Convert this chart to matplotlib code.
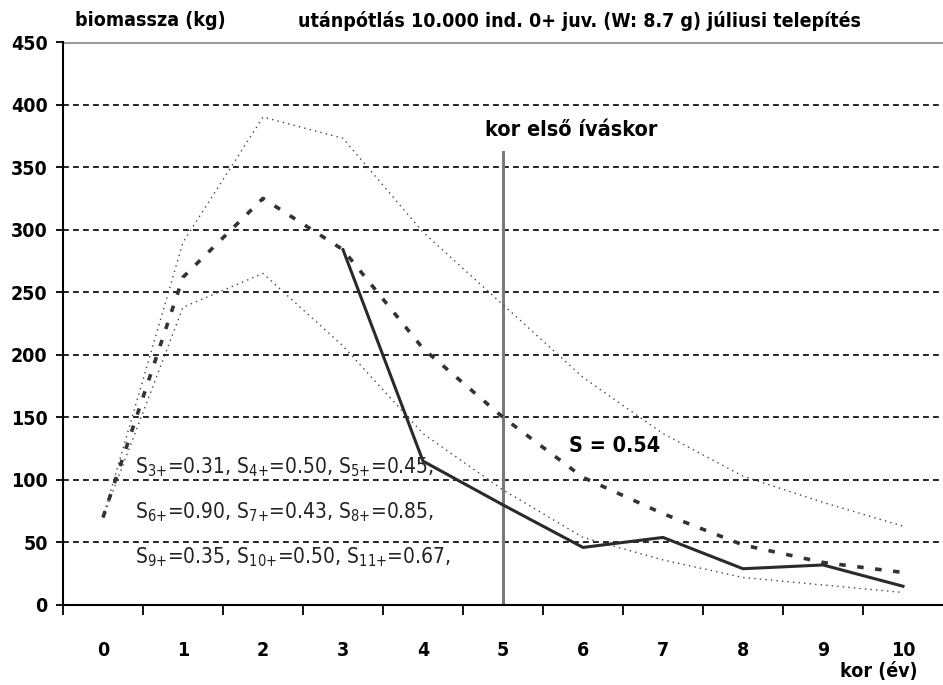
import matplotlib
matplotlib.use("Agg")
import matplotlib.pyplot as plt
from matplotlib import font_manager as fm
from matplotlib.ticker import FixedLocator, NullFormatter

# --- Data ---
years = list(range(11))
year_labels = [str(y) for y in years]
upper = [70, 290, 390, 373, 298, 240, 182, 137, 103, 82, 63]
middle = [70, 262, 325, 284, 205, 150, 102, 73, 48, 34, 26]
lower = [70, 238, 265, 207, 137, 92, 54, 36, 22, 16, 10]
solid_years = list(range(3, 11))
solid = [284, 115, 80, 46, 54, 29, 32, 15]
spawn_age = 5
y_ticks = list(range(0, 451, 50))
surv_ages = ["3", "4", "5", "6", "7", "8", "9", "10", "11"]
surv_vals = ["0.31", "0.50", "0.45", "0.90", "0.43", "0.85", "0.35", "0.50", "0.67"]

# look for a narrow / condensed face (the original uses Arial Narrow)
cond = sorted({f.name for f in fm.fontManager.ttflist if f.stretch == "condensed"})
pref = [n for n in ["Liberation Sans Narrow", "DejaVu Sans", "Open Sans", "Noto Sans", "Roboto"] if n in cond]
FAM = (pref or cond or ["Liberation Sans"])[0]
STRETCH = "condensed" if FAM in cond else "normal"

plt.rcParams["font.family"] = [FAM, "DejaVu Sans"]
plt.rcParams["font.stretch"] = STRETCH
plt.rcParams["mathtext.default"] = "regular"

fig = plt.figure(figsize=(9.43, 6.85), dpi=100)
ax = fig.add_axes([63 / 943, 1 - 605 / 685, 1 - 63 / 943, (605 - 42) / 685])

# --- grid ---
for v in y_ticks[1:-1]:
    ax.axhline(v, color="black", lw=1.2, ls=(0, (3.5, 2.5)), zorder=1)
ax.axhline(450, color="#9a9a9a", lw=2.2, zorder=1)

# --- series ---
ax.plot(years, upper, color="#444444", lw=1.0, ls=(0, (1, 3)), zorder=3)
ax.plot(years, lower, color="#444444", lw=1.0, ls=(0, (1, 3)), zorder=3)
ax.plot(years, middle, color="#333333", lw=2.6, ls=(0, (1.8, 3.2)), zorder=3)
ax.plot(solid_years, solid, color="#2a2a2a", lw=2.2, ls="-", zorder=4)

# vertical marker at age of first spawning
ax.plot([spawn_age, spawn_age], [0, 362], color="#7a7a7a", lw=2.2, zorder=2)

ax.set_xlim(-0.5, 10.5)
ax.set_ylim(0, 450)

# --- axes styling ---
for s in ["top", "right"]:
    ax.spines[s].set_visible(False)
ax.spines["left"].set_linewidth(1.5)
ax.spines["bottom"].set_linewidth(1.5)

ax.set_yticks(y_ticks)
ax.set_yticklabels([str(v) for v in y_ticks], fontsize=14, fontweight="bold")
ax.tick_params(axis="y", length=5, width=1.3, pad=6)

ax.set_xticks(years)
ax.set_xticklabels(year_labels, fontsize=14, fontweight="bold")
ax.tick_params(axis="x", which="major", length=0, pad=26)
ax.xaxis.set_minor_locator(FixedLocator([y - 0.5 for y in years]))
ax.xaxis.set_minor_formatter(NullFormatter())
ax.tick_params(axis="x", which="minor", length=7, width=1.3)

# --- text ---
fig.text(75 / 943, 1 - 21 / 685, "biomassza (kg)", fontsize=14,
         fontweight="bold", va="center", ha="left")
fig.text(298 / 943, 1 - 21 / 685,
         "utánpótlás 10.000 ind. 0+ juv. (W: 8.7 g) júliusi telepítés",
         fontsize=14, fontweight="bold", va="center", ha="left")
fig.text(918 / 943, 1 - 672 / 685, "kor (év)", fontsize=14,
         fontweight="bold", va="center", ha="right")

ax.text(5.85, 380, "kor első íváskor", fontsize=15.5, fontweight="bold",
        ha="center", va="center")
ax.text(6.4, 127, "S = 0.54", fontsize=15.5, fontweight="bold",
        ha="center", va="center")

# survival rates, three per row
parts = [r"S$_{%s\text{+}}$=%s," % (a, v) for a, v in zip(surv_ages, surv_vals)]
for i in range(3):
    row = " ".join(parts[i * 3:(i + 1) * 3])
    ax.text(0.4, 110 - i * 36, row, fontsize=15, color="#222222",
            fontweight="light", ha="left", va="center")

fig.savefig("out.png", dpi=100)
